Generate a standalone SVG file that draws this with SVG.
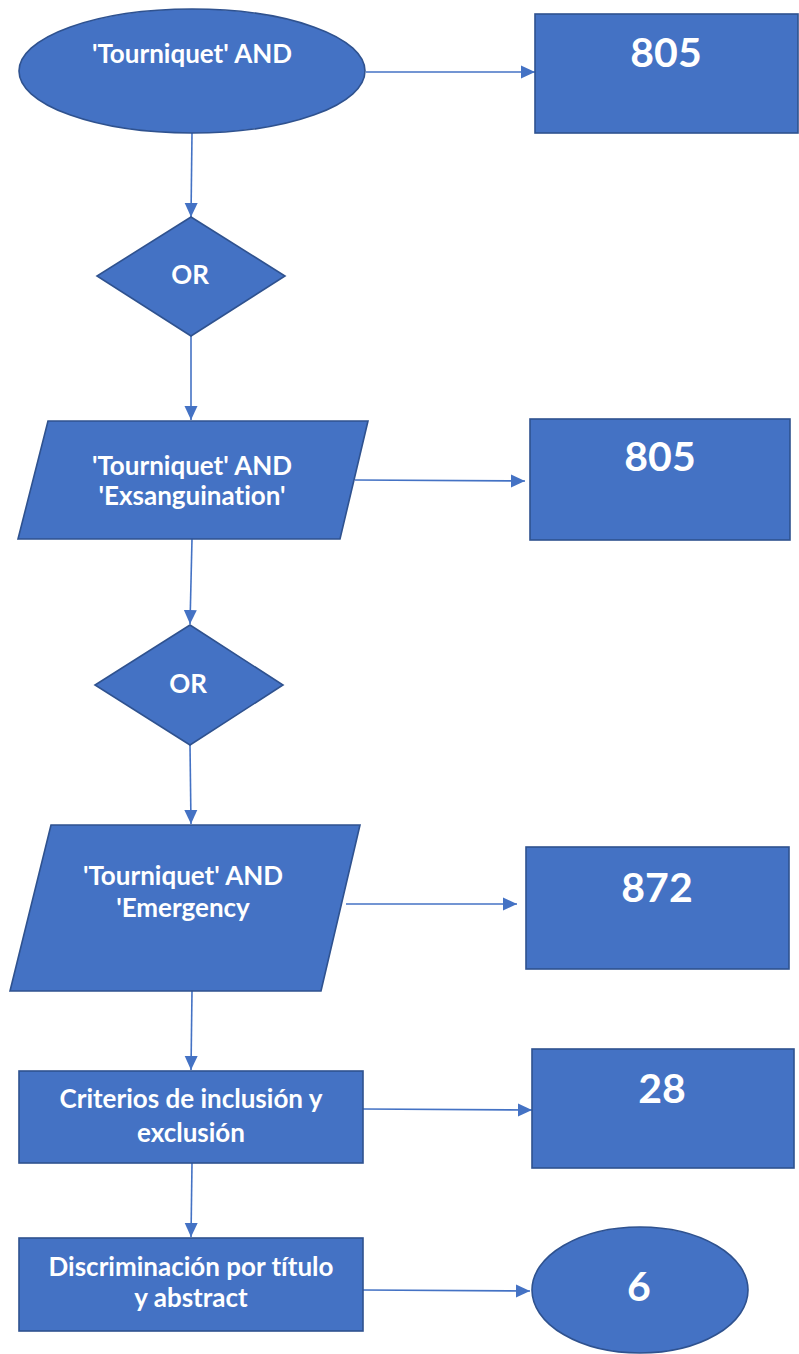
<svg xmlns="http://www.w3.org/2000/svg" width="799" height="1354" viewBox="0 0 799 1354">
  <style>
    .shape { fill: #4472C4; stroke: #2F528F; stroke-width: 1.6; }
    text { font-variant-ligatures: none; }
    .label { fill: #FFFFFF; font-family: Lato, "Liberation Sans", sans-serif; font-weight: bold; font-size: 26px; text-anchor: middle; }
    .big { fill: #FFFFFF; font-family: Lato, "Liberation Sans", sans-serif; font-weight: bold; font-size: 41px; text-anchor: middle; }
    .edge { fill: none; stroke: #4472C4; stroke-width: 1.6; marker-end: url(#arrow); }
  </style>
  <defs>
    <marker id="arrow" markerUnits="userSpaceOnUse" markerWidth="14" markerHeight="14" viewBox="0 0 14 14" refX="14" refY="7" orient="auto">
      <path d="M0,0.5 L14,7 L0,13.5 Z" fill="#4472C4"/>
    </marker>
  </defs>

  <!-- connectors -->
  <g id="connectors">
    <line class="edge" x1="366" y1="72" x2="535" y2="72"/>
    <line class="edge" x1="192" y1="133" x2="191" y2="217"/>
    <line class="edge" x1="191" y1="336" x2="191" y2="420"/>
    <line class="edge" x1="355" y1="480" x2="525" y2="481"/>
    <line class="edge" x1="192" y1="539" x2="190" y2="624"/>
    <line class="edge" x1="190" y1="745" x2="191" y2="824"/>
    <line class="edge" x1="346" y1="904" x2="517" y2="904"/>
    <line class="edge" x1="192" y1="991" x2="191" y2="1070"/>
    <line class="edge" x1="363" y1="1109" x2="532" y2="1110"/>
    <line class="edge" x1="192" y1="1163" x2="191" y2="1237"/>
    <line class="edge" x1="363" y1="1290" x2="530" y2="1291"/>
  </g>

  <!-- search terms -->
  <g id="start-term">
    <ellipse class="shape" cx="192" cy="71" rx="173" ry="62"/>
    <text class="label" x="192" y="63">'Tourniquet' AND</text>
  </g>
  <g id="result-805-a">
    <rect class="shape" x="535" y="14" width="263" height="119"/>
    <text class="big" x="666" y="67">805</text>
  </g>

  <g id="or-1">
    <polygon class="shape" points="191,217 285,276 191,336 97,276"/>
    <text class="label" x="190" y="284">OR</text>
  </g>

  <g id="term-exsanguination">
    <polygon class="shape" points="48,421 368,421 340,539 18,539"/>
    <text class="label" x="192" y="475">'Tourniquet' AND</text>
    <text class="label" x="192" y="505">'Exsanguination'</text>
  </g>
  <g id="result-805-b">
    <rect class="shape" x="530" y="419" width="260" height="121"/>
    <text class="big" x="660" y="471">805</text>
  </g>

  <g id="or-2">
    <polygon class="shape" points="190,625 283,685 190,745 95,685"/>
    <text class="label" x="188" y="693">OR</text>
  </g>

  <g id="term-emergency">
    <polygon class="shape" points="51,825 360,825 321,991 10,991"/>
    <text class="label" x="183" y="885">'Tourniquet' AND</text>
    <text class="label" x="183" y="917">'Emergency</text>
  </g>
  <g id="result-872">
    <rect class="shape" x="526" y="847" width="263" height="122"/>
    <text class="big" x="657" y="902">872</text>
  </g>

  <!-- screening steps -->
  <g id="criteria">
    <rect class="shape" x="19" y="1071" width="344" height="92"/>
    <text class="label" x="191" y="1108">Criterios de inclusión y</text>
    <text class="label" x="191" y="1142">exclusión</text>
  </g>
  <g id="result-28">
    <rect class="shape" x="532" y="1049" width="262" height="119"/>
    <text class="big" x="662" y="1103">28</text>
  </g>

  <g id="title-abstract">
    <rect class="shape" x="19" y="1238" width="344" height="93"/>
    <text class="label" x="191" y="1276">Discriminación por título</text>
    <text class="label" x="191" y="1307">y abstract</text>
  </g>
  <g id="result-6">
    <ellipse class="shape" cx="640" cy="1290" rx="108" ry="63"/>
    <text class="big" x="639" y="1301">6</text>
  </g>
</svg>
